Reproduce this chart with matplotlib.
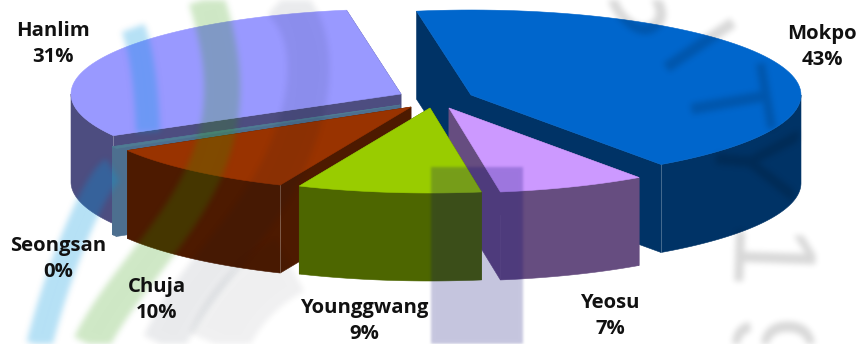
import numpy as np
import matplotlib
matplotlib.use('Agg')
import matplotlib.pyplot as plt
from matplotlib.patches import Polygon

plt.rcParams['font.family'] = ['Open Sans', 'DejaVu Sans']

# share of each port, clockwise from the top of the pie
ports = ['Mokpo', 'Yeosu', 'Younggwang', 'Chuja', 'Seongsan', 'Hanlim']
shares = [43, 7.3, 9, 10, 0.4, 30.6]

top_colors = ['#0066CC', '#CC99FF', '#99CC00', '#993300', '#4F7C94', '#9999FF']
side_colors = ['#003366', '#664D80', '#4D6600', '#4D1A00', '#4D6F8F', '#4D4D80']

# exploded slice centres and label anchors, in pixels
apex = {'Mokpo': (471, 95), 'Yeosu': (449, 108), 'Younggwang': (430, 108),
        'Chuja': (411, 107), 'Seongsan': (400, 105), 'Hanlim': (401, 94)}
label_pos = {'Mokpo': (822, 47), 'Yeosu': (610, 316), 'Younggwang': (364, 321),
             'Chuja': (157, 300), 'Seongsan': (58, 259), 'Hanlim': (53, 44)}

# slices are painted back to front
draw_order = ['Hanlim', 'Mokpo', 'Seongsan', 'Chuja', 'Yeosu', 'Younggwang']

# which end of the rim gets the thin light corner line
corner_line = {'Mokpo': -1, 'Chuja': 0, 'Hanlim': 0}

start_angle = -9.5
rx, ry = 330, 85
depth = 88


def rim(center, t1, t2):
    t = np.radians(np.linspace(t1, t2, 80))
    return np.column_stack([center[0] + rx * np.sin(t), center[1] - ry * np.cos(t)])


def multiply_color(c):
    # flat colour + alpha that darkens what is below it like a multiply layer
    c = np.array(matplotlib.colors.to_rgb(c))
    a = 1 - c.min()
    return tuple((c - (1 - a)) / a), a


def blur(color, radius):
    kernel = np.exp(-0.5 * (np.arange(-3 * radius, 3 * radius + 1) / radius) ** 2)
    kernel /= kernel.sum()
    pad = 3 * radius

    def apply(image, dpi):
        alpha = np.pad(image[:, :, 3], pad)
        alpha = np.apply_along_axis(np.convolve, 0, alpha, kernel, mode='same')
        alpha = np.apply_along_axis(np.convolve, 1, alpha, kernel, mode='same')
        out = np.zeros(alpha.shape + (4,))
        out[:, :, :3] = color
        out[:, :, 3] = alpha
        return out, -pad, -pad
    return apply


def wash_band(points, width, color):
    # soft curved stripe of the seal sitting behind the chart
    rgb, a = multiply_color(color)
    pts = np.array(points, dtype=float)
    s = np.linspace(0, 1, len(pts))
    ss = np.linspace(0, 1, 200)
    fit = np.polyfit(s, pts, min(len(pts) - 1, 5))
    xs = np.polyval(fit[:, 0], ss)
    ys = np.polyval(fit[:, 1], ss)
    line, = ax.plot(xs, ys, color=rgb, alpha=a, lw=width * 0.72, zorder=3,
                    solid_capstyle='butt')
    line.set_agg_filter(blur(rgb, 3))


def wash_letter(s, x, y, rot):
    rgb, a = multiply_color('#D6D6D6')
    t = ax.text(x, y, s, fontsize=84, color=rgb, alpha=a, rotation=rot,
                ha='center', va='center', zorder=3, family='Liberation Sans')
    t.set_agg_filter(blur(rgb, 3))


fig = plt.figure(figsize=(8.59, 3.44), dpi=100)
ax = fig.add_axes([0, 0, 1, 1])
ax.set_xlim(0, 859)
ax.set_ylim(344, 0)
ax.axis('off')

sweep = np.array(shares) / sum(shares) * 360
ends = start_angle + np.cumsum(sweep)
starts = ends - sweep
angle_of = {p: (a, b) for p, a, b in zip(ports, starts, ends)}

for name in draw_order:
    i = ports.index(name)
    c = apex[name]
    t1, t2 = angle_of[name]
    arc = rim(c, t1, t2)
    lower = arc + [0, depth]
    side = side_colors[i]
    # the two cut faces, then the curved wall, then the lid
    for end_pt in (arc[0], arc[-1]):
        face = [c, end_pt, end_pt + [0, depth], (c[0], c[1] + depth)]
        ax.add_patch(Polygon(face, fc=side, ec=side, lw=0.4, zorder=2))
    # only the near half of the rim has a wall that can be seen
    front = rim(c, max(t1, 90), min(t2, 270))
    wall = np.vstack([front, (front + [0, depth])[::-1]])
    ax.add_patch(Polygon(wall, fc=side, ec=side, lw=0.4, zorder=2))
    if name in corner_line:
        k = corner_line[name]
        ax.plot([arc[k][0]] * 2, [arc[k][1], lower[k][1]], color='white', alpha=0.3,
                lw=0.6, zorder=2)
    lid = np.vstack([[c], arc])
    ax.add_patch(Polygon(lid, fc=top_colors[i], ec=top_colors[i], lw=0.4, zorder=2))

# pale seal showing through the chart
wash_band([(133, 28), (143, 70), (148, 132)], 24, '#B5E1F6')
wash_band([(113, 170), (90, 203), (62, 270), (38, 350)], 26, '#B5E1F6')
wash_band([(205, -5), (222, 80), (205, 170), (150, 257), (88, 350)], 36, '#CFE8C5')
wash_band([(277, -5), (307, 90), (270, 190), (215, 265), (160, 350)], 42, '#E9EBED')
wash_band([(290, 265), (245, 300), (215, 350)], 60, '#EFF0F1')

rect_rgb, rect_a = multiply_color('#C4C4DE')
stripe = ax.fill_between([431, 523], 167, 350, color=rect_rgb, alpha=rect_a, lw=0, zorder=3)
stripe.set_agg_filter(blur(rect_rgb, 1))

wash_letter('S', 640, 2, -48)
wash_letter('I', 686, 58, -56)
wash_letter('T', 718, 105, -80)
wash_letter('Y', 742, 162, -95)
wash_letter('1', 755, 262, -92)
wash_letter('9', 757, 352, -92)

for name, share in zip(ports, shares):
    x, y = label_pos[name]
    ax.text(x, y, f'{name}\n{round(share)}%', ha='center', va='center', fontsize=14.6,
            fontweight='bold', color='#111111', linespacing=1.45, zorder=5)

fig.savefig('out.png', dpi=100)
